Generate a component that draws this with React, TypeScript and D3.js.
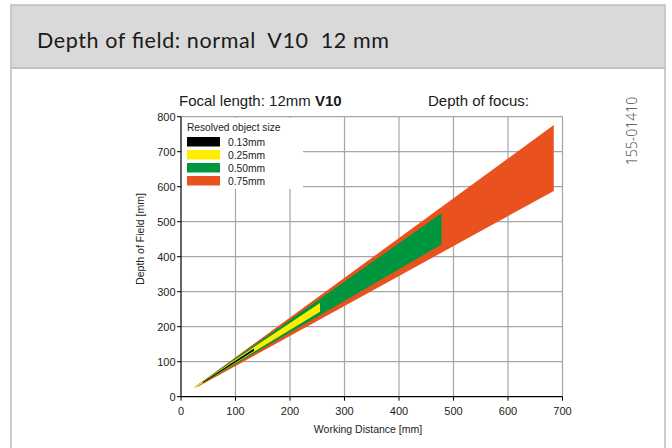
import React from "react";
import * as d3 from "d3";

const seriesNames = ["0.13mm", "0.25mm", "0.50mm", "0.75mm"];
const seriesColors = ["#000000", "#FFED00", "#00963F", "#E9511E"];
// each band: working distance at start/end, upper & lower depth of field
const orangeX = [30, 684];
const orangeUpper = [33, 776];
const orangeLower = [28, 588];
const greenX = [26, 478];
const greenUpper = [29, 524];
const greenLower = [26, 435];
const yellowX = [24, 255];
const yellowUpper = [27, 268];
const yellowLower = [24, 243];
const blackX = [40, 134];
const blackUpper = [42, 138];
const blackLower = [39, 131];

const xTicks = [0, 100, 200, 300, 400, 500, 600, 700];
const yTicks = [0, 100, 200, 300, 400, 500, 600, 700, 800];

const bands = [
  { x: orangeX, up: orangeUpper, lo: orangeLower, color: seriesColors[3] },
  { x: greenX, up: greenUpper, lo: greenLower, color: seriesColors[2] },
  { x: yellowX, up: yellowUpper, lo: yellowLower, color: seriesColors[1] },
  { x: blackX, up: blackUpper, lo: blackLower, color: seriesColors[0] },
];

export default function App() {
  const x = d3.scaleLinear().domain([0, 700]).range([181, 562.5]);
  const y = d3.scaleLinear().domain([0, 800]).range([396.7, 116.7]);
  const area = d3
    .area<{ x: number; up: number; lo: number }>()
    .x((d) => x(d.x))
    .y0((d) => y(d.lo))
    .y1((d) => y(d.up));
  const sans = "'Liberation Sans', Arial, sans-serif";
  return (
    <svg
      width={672}
      height={448}
      style={{ position: "absolute", left: 0, top: 0, background: "#fff" }}
    >
      <rect x={11} y={68} width={654} height={400} fill="#fff" stroke="#bdbdbd" strokeWidth={1.5} />
      <rect x={11} y={5} width={654} height={63} fill="#d9d9d9" stroke="#bdbdbd" strokeWidth={1.5} />
      <text x={37} y={48} fontFamily="Lato, 'Open Sans', sans-serif" fontSize={21.5} fill="#1a1a1a" textLength={352} lengthAdjust="spacing" style={{ whiteSpace: "pre" }}>
        {"Depth of field: normal  V10  12 mm"}
      </text>

      {/* grid */}
      {xTicks.filter((t) => t > 0).map((t) => (
        <line key={"gx" + t} x1={x(t)} x2={x(t)} y1={y(800)} y2={y(0)} stroke="#a6a6a6" strokeWidth={1.2} />
      ))}
      {yTicks.filter((t) => t > 0).map((t) => (
        <line key={"gy" + t} x1={x(0)} x2={x(700)} y1={y(t)} y2={y(t)} stroke="#a6a6a6" strokeWidth={1.2} />
      ))}

      {/* bands */}
      {bands.map((b, i) => (
        <path
          key={i}
          d={area(b.x.map((v, j) => ({ x: v, up: b.up[j], lo: b.lo[j] }))) || ""}
          fill={b.color}
        />
      ))}

      {/* legend */}
      <rect x={182} y={118} width={121} height={71} fill="#fff" />
      <text x={187} y={131} fontFamily={sans} fontSize={10.2} fill="#222">Resolved object size</text>
      {seriesNames.map((n, i) => (
        <g key={n} transform={`translate(187, ${137 + i * 13})`}>
          <rect width={33} height={9.5} fill={seriesColors[i]} />
          <text x={41} y={8.8} fontFamily={sans} fontSize={10.3} fill="#222">{n}</text>
        </g>
      ))}

      {/* axes */}
      <line x1={x(0)} x2={x(0)} y1={y(800)} y2={y(0)} stroke="#000" strokeWidth={1.2} />
      <line x1={x(0)} x2={x(700)} y1={y(0)} y2={y(0)} stroke="#000" strokeWidth={1.2} />
      {yTicks.map((t) => (
        <g key={"yt" + t}>
          <line x1={x(0) - 4} x2={x(0)} y1={y(t)} y2={y(t)} stroke="#000" />
          <text x={x(0) - 5.5} y={y(t) + 4} textAnchor="end" fontFamily={sans} fontSize={11} fill="#222">{t}</text>
        </g>
      ))}
      {xTicks.map((t) => (
        <g key={"xt" + t}>
          <line x1={x(t)} x2={x(t)} y1={y(0)} y2={y(0) + 4} stroke="#000" />
          <text x={x(t)} y={415} textAnchor="middle" fontFamily={sans} fontSize={11} fill="#222">{t}</text>
        </g>
      ))}
      <text x={368} y={433} textAnchor="middle" fontFamily={sans} fontSize={10.5} fill="#222">Working Distance [mm]</text>
      <text transform="translate(144,239) rotate(-90)" textAnchor="middle" fontFamily={sans} fontSize={10.5} fill="#222">Depth of Field [mm]</text>

      <text x={179} y={106} fontFamily={sans} fontSize={15} fill="#1a1a1a">
        Focal length: 12mm <tspan fontWeight="bold">V10</tspan>
      </text>
      <text x={428} y={106} fontFamily={sans} fontSize={15} fill="#1a1a1a">Depth of focus:</text>
      <text transform="translate(637,131) rotate(-90)" textAnchor="middle" fontFamily="'Open Sans', sans-serif" fontWeight={300} fontSize={14} fill="#444">155-01410</text>
    </svg>
  );
}
